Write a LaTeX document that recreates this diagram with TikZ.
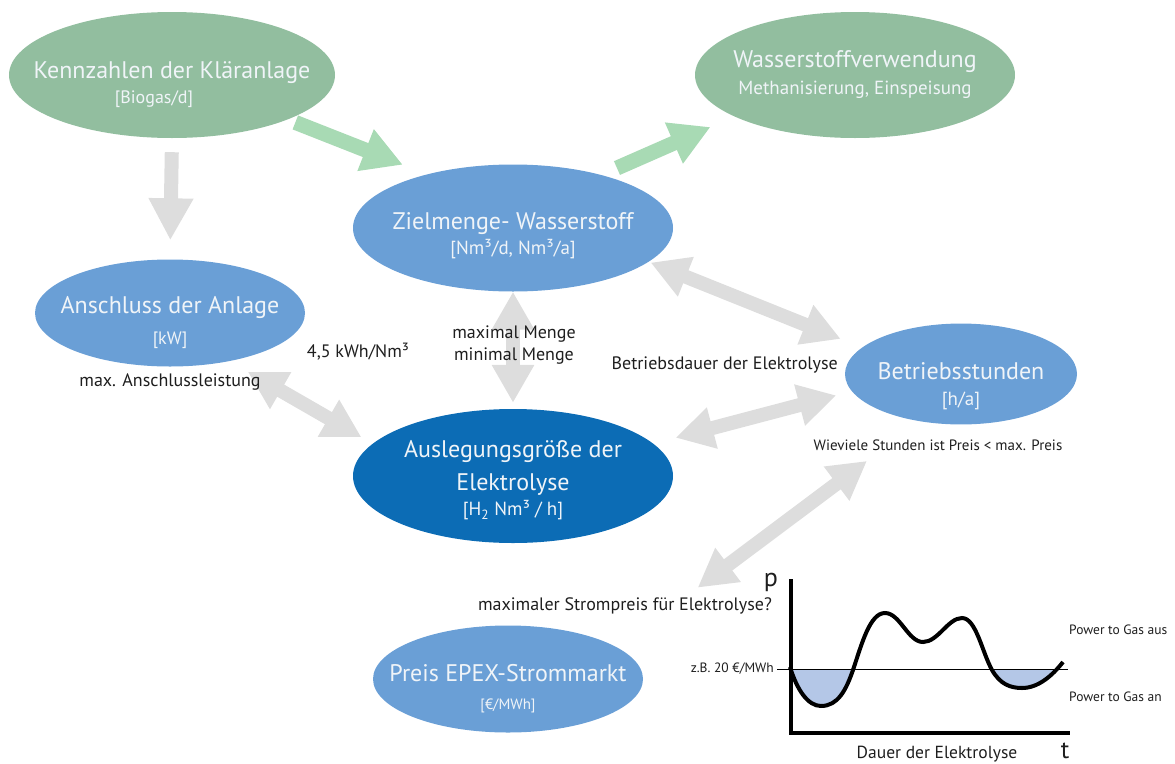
\documentclass[tikz,border=0pt]{standalone}
\usepackage{fontspec}
\setmainfont{PT Sans}
\usetikzlibrary{positioning,shapes.geometric,arrows.meta}

\definecolor{kgreen}{RGB}{146,190,159}
\definecolor{lblue}{RGB}{106,159,214}
\definecolor{dblue}{RGB}{12,108,181}
\definecolor{arrgreen}{RGB}{168,218,180}
\definecolor{arrgray}{RGB}{221,221,221}
\definecolor{ntext}{RGB}{240,244,248}
\definecolor{ltext}{RGB}{30,30,30}
\definecolor{fillblue}{RGB}{180,199,231}

\newcommand{\pricecurve}{(790,667) .. controls (797,690) and (808,706) .. (821,706)
  .. controls (838,706) and (846,690) .. (853,670)
  .. controls (862,643) and (870,613) .. (885,613)
  .. controls (900,613) and (908,642) .. (923,642)
  .. controls (938,642) and (948,618) .. (962,618)
  .. controls (976,618) and (982,652) .. (992,670)
  .. controls (1000,684) and (1010,688) .. (1022,688)
  .. controls (1038,688) and (1052,676) .. (1063,662)}

\begin{document}
\begin{tikzpicture}[x=1pt,y=-1pt]
    \tikzset{greenell/.style = {ellipse, fill=kgreen, text=ntext, minimum width=320pt, minimum height=126pt, inner xsep=-60pt, inner ysep=0pt, align=center, font=\fontsize{24}{25}\selectfont}, }
    \tikzset{blueell/.style = {ellipse, fill=lblue, text=ntext, inner xsep=-60pt, inner ysep=0pt, align=center, font=\fontsize{24}{25}\selectfont}, }
    \tikzset{darkell/.style = {blueell, fill=dblue}, }
    \tikzset{textdrop/.style = {execute at begin node={\rule{0pt}{#1}}}, }
    \tikzset{lbl/.style = {text=ltext, inner sep=1pt, align=center, font=\fontsize{18}{21}\selectfont}, }
    \tikzset{chartlbl/.style = {text=ltext, inner sep=1pt, font=\fontsize{13.5}{16}\selectfont}, }
    \tikzset{greenarrow/.style = {line width=15pt, draw=arrgreen, -{Triangle[width=42pt,length=40pt]}}, }
    \tikzset{grayarrow/.style = {line width=14pt, draw=arrgray, -{Triangle[width=42pt,length=42pt]}}, }
    \tikzset{graytwo/.style = {line width=14pt, draw=arrgray, {Triangle[width=40pt,length=38pt]}-{Triangle[width=40pt,length=38pt]}}, }

    \useasboundingbox (0,0) rectangle (1175,763);

    % ellipses
    \node[greenell, minimum width=326pt, textdrop=61pt] (K) at (172,75) {Kennzahlen der Kläranlage\\[0pt] {\fontsize{18}{20}\selectfont [Biogas/d]\hspace*{36pt}}};
    \node[greenell] (W) at (855,75) {Wasserstoffverwendung\\[2pt] {\fontsize{19}{21}\selectfont Methanisierung, Einspeisung}};
    \node[blueell, minimum width=320pt, minimum height=127pt, textdrop=58pt] (Z) at (513,228) {Zielmenge- Wasserstoff\\[0pt] {\fontsize{19}{21}\selectfont [Nm³/d, Nm³/a]}};
    \node[blueell, minimum width=270pt, minimum height=107pt, textdrop=68pt] (A) at (170,313) {Anschluss der Anlage\\[6pt] {\fontsize{18}{20}\selectfont [kW]}};
    \node[blueell, minimum width=232pt, minimum height=92pt, textdrop=67pt] (B) at (961,374) {Betriebsstunden\\[1pt] {\fontsize{19}{21}\selectfont [h/a]}};
    \node[darkell, minimum width=320pt, minimum height=134pt, textdrop=84pt] (E) at (513,476) {Auslegungsgröße der\\[8pt] Elektrolyse\\ {\fontsize{19}{21}\selectfont [H\textsubscript{2} Nm³ / h]}};
    \node[blueell, minimum width=270pt, minimum height=107pt, textdrop=64pt] (P) at (508,679) {Preis EPEX-Strommarkt\\[3pt] {\fontsize{15}{18}\selectfont [€/MWh]}};

    % arrows
    \draw[grayarrow, shorten <=14pt, shorten >=19pt] (K.south) -- (A.north);
    \draw[greenarrow, shorten <=8pt, shorten >=26pt] (K.-21) -- (Z.148);
    \draw[greenarrow, shorten <=17pt, shorten >=26pt] (Z.31) -- (W.199);
    \draw[graytwo, shorten <=21pt, shorten >=13pt] (A.-39) -- (E.167);
    \draw[graytwo, shorten >=6pt] (Z.south) -- (E.north);
    \draw[graytwo, shorten <=2pt, shorten >=23pt] (Z.-14) -- (B.165);
    \draw[graytwo, shorten <=16pt, shorten >=23pt] (B.189) -- (E.13);
    \draw[graytwo, shorten <=66pt, shorten >=100pt] (B.229) -- (P.16);

    % labels
    \node[lbl, below=6pt of A] (lanschl) {max. Anschlussleistung};
    \node[lbl] (lkwh) at (358,352) {4,5 kWh/Nm³};
    \node[lbl] (lmenge) at (514,345) {maximal Menge\\[1pt]minimal Menge};
    \node[lbl, anchor=east] (lbetr) at (839,365) {Betriebsdauer der Elektrolyse};
    \node[lbl, font=\fontsize{15}{18}\selectfont] (lstunden) at (938,445) {Wieviele Stunden ist Preis < max. Preis};
    \node[lbl] (lstrom) at (625,606) {maximaler Strompreis für Elektrolyse?};

    % price chart
    \begin{scope}
      \clip (790,669) rectangle (1070,740);
      \fill[fillblue] \pricecurve -- (1063,669) -- (790,669) -- cycle;
    \end{scope}
    \draw[line width=1pt] (777,669) -- (1068,669);
    \draw[line width=4pt] \pricecurve;
    \coordinate (O) at (791,733);
    \draw[line width=3.5pt] (791,579) -- (O) -- (1070,733);
    \node[chartlbl, anchor=east] (lzb) at (775,669) {z.B. 20 €/MWh};
    \node[chartlbl, anchor=west] (laus) at (1068,630) {Power to Gas aus};
    \node[chartlbl, anchor=west] (lan) at (1068,697) {Power to Gas an};
    \node[text=ltext, inner sep=0pt, anchor=base, font=\fontsize{26}{28}\selectfont] (lp) at (771,586) {p};
    \node[text=ltext, inner sep=0pt, anchor=base, font=\fontsize{25}{28}\selectfont] (lt) at (1065,758) {t};
    \node[text=ltext, inner sep=0pt, anchor=base, font=\fontsize{17.5}{20}\selectfont] (ldauer) at (937,758) {Dauer der Elektrolyse};

\end{tikzpicture}
\end{document}
